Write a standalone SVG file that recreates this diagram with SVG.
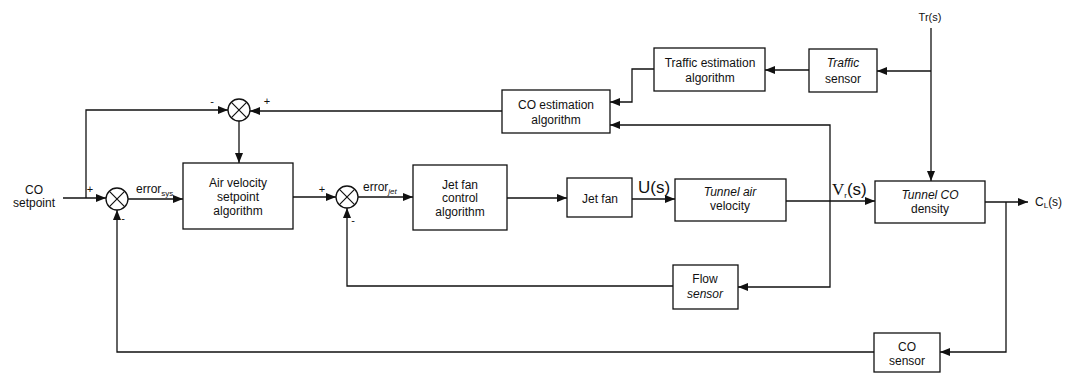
<svg xmlns="http://www.w3.org/2000/svg" width="1073" height="374" viewBox="0 0 1073 374">
<defs>
<marker id="ah" markerUnits="userSpaceOnUse" markerWidth="10" markerHeight="8" refX="10" refY="4" orient="auto">
<path d="M0,0 L10,4 L0,8 z" fill="#111"/>
</marker>
<style>
.box{fill:#fff;stroke:#111;stroke-width:1.3}
.sum{fill:#fff;stroke:#111;stroke-width:1.3}
.x{stroke:#111;stroke-width:1.2}
.c{fill:none;stroke:#111;stroke-width:1.3;marker-end:url(#ah)}
.l{fill:none;stroke:#111;stroke-width:1.3}
text{font-family:"Liberation Sans",Arial,sans-serif;font-size:12px;fill:#111;text-anchor:middle}
.it{font-style:italic}
.sg{font-size:11px}
.st{text-anchor:start}
.big{font-size:17px;text-anchor:start}
.sub{font-size:8px}
</style>
</defs>
<rect width="1073" height="374" fill="#fff"/>

<g id="connectors">
<path class="c" d="M63,198 H106"/>
<path class="c" d="M86,198 V110 H228"/>
<path class="c" d="M239,121 V163"/>
<path class="c" d="M502,111 H250"/>
<path class="c" d="M128,199 H183"/>
<path class="c" d="M293,197 H336"/>
<path class="c" d="M358,197 H413"/>
<path class="c" d="M507,198 H567"/>
<path class="c" d="M632,199 H675"/>
<path class="c" d="M786,201 H875"/>
<path class="c" d="M830,201 V125 H610"/>
<path class="c" d="M830,201 V287 H738"/>
<path class="c" d="M673,286 H347 V208"/>
<path class="c" d="M985,202 H1028"/>
<path class="c" d="M1006,202 V352 H940"/>
<path class="c" d="M874,352 H117 V210"/>
<path class="c" d="M931,28 V181"/>
<path class="c" d="M931,71 H877"/>
<path class="c" d="M809,70 H765"/>
<path class="c" d="M654,69 H632 V102 H610"/>
</g>

<g id="setpoint">
<text x="34" y="194">CO</text>
<text x="34" y="207">setpoint</text>
</g>

<g id="sum1">
<circle class="sum" cx="117" cy="199" r="11"/>
<path class="x" d="M109.2,191.2 L124.8,206.8 M124.8,191.2 L109.2,206.8"/>
<text class="sg" x="90" y="193">+</text>
<text class="sg" x="123" y="222">-</text>
</g>

<g id="sum2">
<circle class="sum" cx="347" cy="197" r="11"/>
<path class="x" d="M339.2,189.2 L354.8,204.8 M354.8,189.2 L339.2,204.8"/>
<text class="sg" x="322" y="193">+</text>
<text class="sg" x="353" y="224">-</text>
</g>

<g id="sum3">
<circle class="sum" cx="239" cy="110" r="11"/>
<path class="x" d="M231.2,102.2 L246.8,117.8 M246.8,102.2 L231.2,117.8"/>
<text class="sg" x="212" y="105">-</text>
<text class="sg" x="267" y="105">+</text>
</g>

<g id="error-sys">
<text class="st" x="136" y="193">error<tspan class="sub" dy="3">sys</tspan></text>
</g>
<g id="error-jet">
<text class="st" x="363" y="191">error<tspan class="sub it" dy="3">jet</tspan></text>
</g>

<g id="air-velocity-setpoint">
<rect class="box" x="183" y="163" width="110" height="66"/>
<text x="238" y="187">Air velocity</text>
<text x="238" y="201">setpoint</text>
<text x="238" y="215">algorithm</text>
</g>

<g id="jet-fan-control">
<rect class="box" x="413" y="165" width="94" height="65"/>
<text x="460" y="189">Jet fan</text>
<text x="460" y="202">control</text>
<text x="460" y="216">algorithm</text>
</g>

<g id="jet-fan">
<rect class="box" x="567" y="178" width="65" height="39"/>
<text x="600" y="203">Jet fan</text>
</g>

<g id="u-label">
<text class="big" x="638" y="193">U(s)</text>
</g>

<g id="tunnel-air-velocity">
<rect class="box" x="675" y="179" width="111" height="42"/>
<text class="it" x="730" y="196">Tunnel air</text>
<text x="730" y="210">velocity</text>
</g>

<g id="vr-label">
<text class="big" x="832" y="195"><tspan style="font-family:'Liberation Serif',serif">V</tspan><tspan class="sub" dy="3">r</tspan><tspan dy="-3">(s)</tspan></text>
</g>

<g id="tunnel-co-density">
<rect class="box" x="875" y="181" width="110" height="42"/>
<text class="it" x="930" y="199">Tunnel CO</text>
<text x="930" y="213">density</text>
</g>

<g id="cl-label">
<text class="st" x="1035" y="206">C<tspan class="sub" dy="2">L</tspan><tspan dy="-2">(s)</tspan></text>
</g>

<g id="tr-label">
<text class="sg" x="930" y="21">Tr(s)</text>
</g>

<g id="flow-sensor">
<rect class="box" x="673" y="265" width="65" height="44"/>
<text x="705" y="283">Flow</text>
<text class="it" x="705" y="298">sensor</text>
</g>

<g id="co-sensor">
<rect class="box" x="874" y="333" width="66" height="39"/>
<text x="907" y="351">CO</text>
<text x="907" y="365">sensor</text>
</g>

<g id="co-estimation">
<rect class="box" x="502" y="90" width="108" height="43"/>
<text x="556" y="109">CO estimation</text>
<text x="556" y="124">algorithm</text>
</g>

<g id="traffic-estimation">
<rect class="box" x="654" y="48" width="111" height="43"/>
<text x="710" y="67">Traffic estimation</text>
<text x="710" y="82">algorithm</text>
</g>

<g id="traffic-sensor">
<rect class="box" x="809" y="49" width="68" height="43"/>
<text class="it" x="843" y="67">Traffic</text>
<text x="843" y="83">sensor</text>
</g>
</svg>
